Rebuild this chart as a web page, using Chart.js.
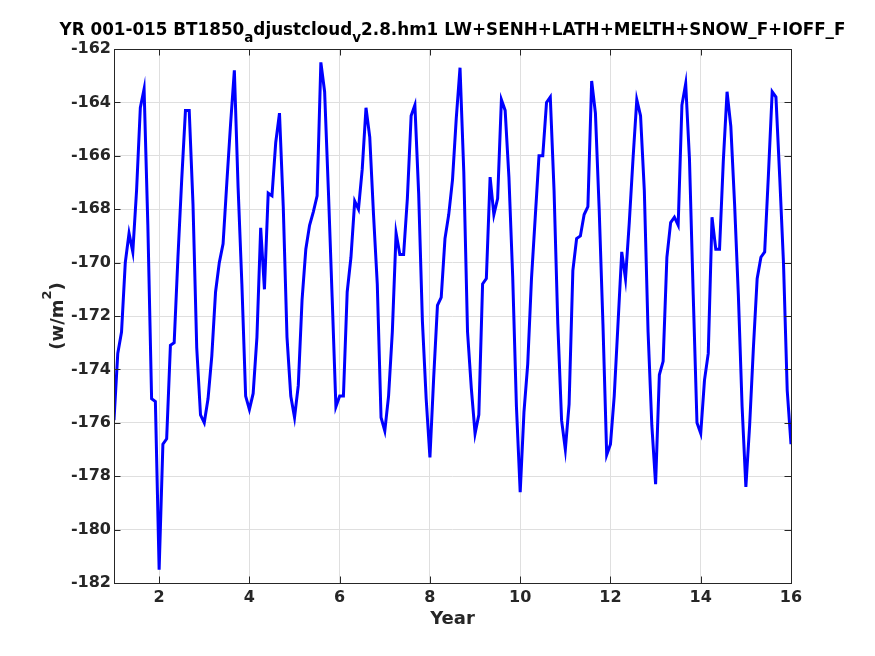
<!DOCTYPE html>
<html>
<head>
<meta charset="utf-8">
<script src="https://cdn.jsdelivr.net/npm/chart.js@4.4.1/dist/chart.umd.min.js"></script>
<style>
  html, body { margin: 0; padding: 0; background: #fff; }
  canvas { display: block; }
</style>
</head>
<body>
<canvas id="grafico" width="875" height="656"></canvas>
<script>
// valores mensais (anos 1 a 16, um valor por mes)
const fluxo = [
  -175.9, -173.4, -172.6, -170.0, -168.9, -169.6, -167.3, -164.2, -163.5, -168.6, -175.1, -175.2,
  -181.5, -176.8, -176.6, -173.1, -173.0, -169.8, -166.9, -164.3, -164.3, -167.8, -173.2, -175.7,
  -176.0, -175.1, -173.5, -171.1, -170.0, -169.3, -167.0, -164.8, -162.8, -167.2, -170.8, -175.0,
  -175.5, -174.9, -172.8, -168.7, -171.0, -167.4, -167.5, -165.5, -164.4, -167.9, -172.8, -175.0,
  -175.8, -174.6, -171.4, -169.5, -168.6, -168.1, -167.5, -162.5, -163.6, -167.3, -171.3, -175.4,
  -175.0, -175.0, -171.1, -169.8, -167.7, -168.0, -166.5, -164.2, -165.3, -168.2, -170.8, -175.8,
  -176.3, -175.0, -172.6, -168.9, -169.7, -169.7, -167.6, -164.5, -164.1, -167.4, -172.2, -175.1,
  -177.3, -174.3, -171.6, -171.3, -169.1, -168.2, -166.9, -164.6, -162.7, -166.6, -172.6, -174.7,
  -176.4, -175.7, -170.8, -170.6, -166.8, -168.2, -167.6, -163.9, -164.3, -166.8, -170.5, -175.4,
  -178.6, -175.6, -173.8, -170.6, -168.3, -166.0, -166.0, -164.0, -163.8, -167.3, -172.3, -175.9,
  -177.0, -175.3, -170.3, -169.1, -169.0, -168.2, -167.9, -163.2, -164.4, -168.0, -172.3, -177.2,
  -176.8, -175.0, -172.3, -169.6, -170.6, -168.5, -166.1, -163.9, -164.5, -167.3, -172.6, -176.1,
  -178.3, -174.2, -173.7, -169.8, -168.5, -168.3, -168.6, -164.1, -163.3, -166.1, -171.2, -176.0,
  -176.4, -174.4, -173.4, -168.3, -169.5, -169.5, -166.2, -163.6, -164.9, -167.8, -171.2, -175.4,
  -178.4, -176.1, -173.2, -170.6, -169.8, -169.6, -166.7, -163.6, -163.8, -166.8, -170.0, -174.8,
  -176.8
];

const anoInicio = 1;
const anoFim = 16;
const anosTicks = [2, 4, 6, 8, 10, 12, 14, 16];
const fluxoTicks = [-182, -180, -178, -176, -174, -172, -170, -168, -166, -164, -162];

const titulo = [
  { texto: 'YR 001-015 BT1850' },
  { texto: 'a', sub: true },
  { texto: 'djustcloud' },
  { texto: 'v', sub: true },
  { texto: '2.8.hm1 LW+SENH+LATH+MELTH+SNOW_F+IOFF_F' }
];

const corEixo = '#262626';
const fonte = '"DejaVu Sans", sans-serif';

const pontos = fluxo.map((v, i) => ({ x: anoInicio + i / 12, y: v }));

// moldura, ticks para dentro e textos com sub/sobrescrito (estilo matlab)
const molduraPlugin = {
  id: 'moldura',
  afterDraw(chart) {
    const ctx = chart.ctx;
    const a = chart.chartArea;
    const sx = chart.scales.x;
    const sy = chart.scales.y;
    const tam = 6.5;

    ctx.save();
    ctx.strokeStyle = corEixo;
    ctx.lineWidth = 1;
    ctx.beginPath();
    anosTicks.forEach(v => {
      const px = Math.round(sx.getPixelForValue(v)) + 0.5;
      ctx.moveTo(px, a.bottom); ctx.lineTo(px, a.bottom - tam);
      ctx.moveTo(px, a.top); ctx.lineTo(px, a.top + tam);
    });
    fluxoTicks.forEach(v => {
      const py = Math.round(sy.getPixelForValue(v)) + 0.5;
      ctx.moveTo(a.left, py); ctx.lineTo(a.left + tam, py);
      ctx.moveTo(a.right, py); ctx.lineTo(a.right - tam, py);
    });
    ctx.stroke();
    ctx.strokeRect(Math.round(a.left) + 0.5, Math.round(a.top) + 0.5,
      Math.round(a.right - a.left), Math.round(a.bottom - a.top));

    // titulo
    ctx.fillStyle = '#000';
    ctx.textBaseline = 'alphabetic';
    ctx.textAlign = 'left';
    const fNormal = 'bold 16.8px ' + fonte;
    const fSub = 'bold 13.5px ' + fonte;
    let total = 0;
    titulo.forEach(p => {
      ctx.font = p.sub ? fSub : fNormal;
      p.w = ctx.measureText(p.texto).width;
      total += p.w;
    });
    let x = (a.left + a.right) / 2 - total / 2;
    titulo.forEach(p => {
      ctx.font = p.sub ? fSub : fNormal;
      ctx.fillText(p.texto, x, p.sub ? 42 : 35);
      x += p.w;
    });

    // rotulo x
    const fRotulo = 'bold 18px ' + fonte;
    ctx.fillStyle = corEixo;
    ctx.font = fRotulo;
    ctx.textAlign = 'center';
    ctx.fillText('Year', (a.left + a.right) / 2, 624);

    // rotulo y
    ctx.translate(63, (a.top + a.bottom) / 2);
    ctx.rotate(-Math.PI / 2);
    ctx.textAlign = 'left';
    const partes = [['(w/m', fRotulo, 0], ['2', 'bold 13px ' + fonte, -12], [')', fRotulo, 0]];
    let larg = 0;
    partes.forEach(p => { ctx.font = p[1]; p.push(ctx.measureText(p[0]).width); larg += p[3]; });
    let yx = -larg / 2;
    partes.forEach(p => {
      ctx.font = p[1];
      ctx.fillText(p[0], yx, p[2]);
      yx += p[3];
    });
    ctx.restore();
  }
};

const grafico = new Chart(document.getElementById('grafico'), {
  type: 'line',
  data: {
    datasets: [{
      data: pontos,
      borderColor: '#0000ff',
      borderWidth: 3,
      pointRadius: 0,
      tension: 0,
      fill: false
    }]
  },
  options: {
    responsive: false,
    animation: false,
    layout: { padding: { left: 0, top: 49, right: 84, bottom: 0 } },
    plugins: { legend: { display: false }, tooltip: { enabled: false } },
    scales: {
      x: {
        type: 'linear',
        min: anoInicio,
        max: anoFim,
        afterBuildTicks: s => { s.ticks = anosTicks.map(v => ({ value: v })); },
        afterFit: s => { s.height = 73; },
        grid: { color: '#dfdfdf', lineWidth: 1, drawTicks: false },
        border: { display: false },
        ticks: { color: corEixo, padding: 5, maxRotation: 0, font: { family: fonte, size: 16, weight: 'bold' } }
      },
      y: {
        type: 'linear',
        min: -182,
        max: -162,
        afterBuildTicks: s => { s.ticks = fluxoTicks.map(v => ({ value: v })); },
        afterFit: s => { s.width = 114; },
        grid: { color: '#dfdfdf', lineWidth: 1, drawTicks: false },
        border: { display: false },
        ticks: { color: corEixo, padding: 3, font: { family: fonte, size: 16, weight: 'bold' } }
      }
    }
  },
  plugins: [molduraPlugin]
});
</script>
</body>
</html>
